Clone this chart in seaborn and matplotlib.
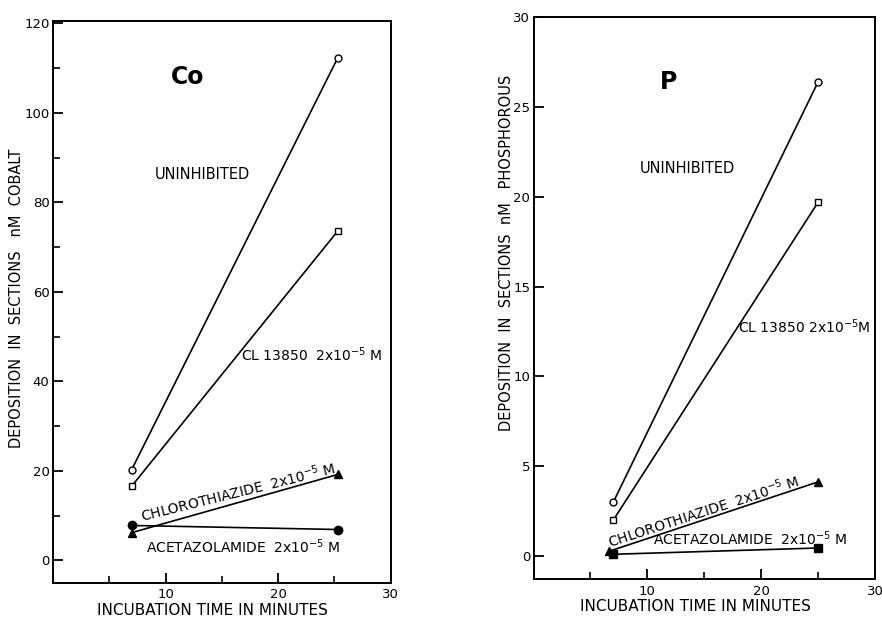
import seaborn as sns
import matplotlib.pyplot as plt
import pandas as pd
from matplotlib.ticker import MultipleLocator

# incubation times (minutes)
co_times = [7, 25.3]
p_times = [7, 25]
p_chloro_times = [6.6, 25]

# cobalt deposition (nM)
co_uninhibited = [20.3, 112.3]
co_cl13850 = [16.6, 73.6]
co_chlorothiazide = [6.2, 19.2]
co_acetazolamide = [7.8, 6.9]

# phosphorous deposition (nM)
p_uninhibited = [3.0, 26.4]
p_cl13850 = [2.0, 19.7]
p_chlorothiazide = [0.26, 4.13]
p_acetazolamide = [0.1, 0.45]

series_names = ['Uninhibited', 'CL 13850', 'Chlorothiazide', 'Acetazolamide']


def build_frame(times, values_list, chloro_times=None):
    rows = []
    for name, vals in zip(series_names, values_list):
        tt = chloro_times if (name == 'Chlorothiazide' and chloro_times) else times
        for t, v in zip(tt, vals):
            rows.append({'time': t, 'value': v, 'series': name})
    return pd.DataFrame(rows)


co_df = build_frame(co_times, [co_uninhibited, co_cl13850, co_chlorothiazide, co_acetazolamide])
p_df = build_frame(p_times, [p_uninhibited, p_cl13850, p_chlorothiazide, p_acetazolamide],
                   chloro_times=p_chloro_times)

sns.set_style("ticks")
plt.rcParams['font.family'] = ['DejaVu Sans']
for key in ['text.color', 'axes.labelcolor', 'xtick.color', 'ytick.color']:
    plt.rcParams[key] = 'black'

fig = plt.figure(figsize=(8.82, 6.18), dpi=100)
ax1 = fig.add_axes([0.060, 0.057, 0.383, 0.909])
ax2 = fig.add_axes([0.605, 0.063, 0.387, 0.909])


def draw_series(ax, df, acet_marker):
    styles = {
        'Uninhibited': dict(marker='o', markerfacecolor='white', markersize=5),
        'CL 13850': dict(marker='s', markerfacecolor='white', markersize=5),
        'Chlorothiazide': dict(marker='^', markerfacecolor='black', markersize=6),
        'Acetazolamide': dict(marker=acet_marker, markerfacecolor='black', markersize=6),
    }
    for name in series_names:
        sub = df[df['series'] == name]
        sns.lineplot(data=sub, x='time', y='value', color='black', linewidth=1.2,
                     markeredgecolor='black', markeredgewidth=1.0, ax=ax,
                     **styles[name])


def style_axes(ax, ylim, major, minor, ylabel, ylabel_pos):
    ax.set_xlim(0, 30)
    ax.set_ylim(*ylim)
    ax.xaxis.set_minor_locator(MultipleLocator(5))
    ax.set_xticks([10, 20, 30])
    ax.yaxis.set_major_locator(MultipleLocator(major))
    if minor:
        ax.yaxis.set_minor_locator(MultipleLocator(minor))
    ax.tick_params(axis='both', which='major', direction='in', length=7, width=1.3,
                   labelsize=9.5, pad=2.5)
    ax.tick_params(axis='both', which='minor', direction='in', length=5, width=1.2)
    ax.tick_params(axis='x', which='major', pad=4)
    for sp in ax.spines.values():
        sp.set_visible(True)
        sp.set_linewidth(1.4)
        sp.set_color('black')
    ax.set_xlabel('INCUBATION TIME IN MINUTES', fontsize=11, va='center')
    ax.xaxis.set_label_coords(0.473, -0.049)
    ax.set_ylabel(ylabel, fontsize=10.5, va='center')
    ax.yaxis.set_label_coords(*ylabel_pos)


# Co panel
draw_series(ax1, co_df, 'o')
style_axes(ax1, (-5, 120.5), 20, 10, 'DEPOSITION  IN  SECTIONS   nM  COBALT', (-0.107, 0.507))
ax1.text(12, 108, 'Co', fontsize=17, fontweight='bold', ha='center', va='center')
ax1.text(13.3, 86.3, 'UNINHIBITED', fontsize=10.5, ha='center', va='center')
ax1.text(23.0, 45.9, 'CL 13850  2x10$^{-5}$ M', fontsize=10, ha='center', va='center')
ax1.text(16.4, 15.4, 'CHLOROTHIAZIDE  2x10$^{-5}$ M', fontsize=10, ha='center', va='center',
         rotation=14)
ax1.text(16.9, 3.1, 'ACETAZOLAMIDE  2x10$^{-5}$ M', fontsize=10, ha='center', va='center')

# P panel
draw_series(ax2, p_df, 's')
style_axes(ax2, (-1.28, 30), 5, None, 'DEPOSITION  IN  SECTIONS  nM   PHOSPHOROUS', (-0.08, 0.58))
ax2.text(11.9, 26.4, 'P', fontsize=17, fontweight='bold', ha='center', va='center')
ax2.text(13.5, 21.6, 'UNINHIBITED', fontsize=10.5, ha='center', va='center')
ax2.text(23.8, 12.8, 'CL 13850 2x10$^{-5}$M', fontsize=10, ha='center', va='center')
ax2.text(14.9, 2.5, 'CHLOROTHIAZIDE  2x10$^{-5}$ M', fontsize=10, ha='center', va='center',
         rotation=18)
ax2.text(19.0, 0.95, 'ACETAZOLAMIDE  2x10$^{-5}$ M', fontsize=10, ha='center', va='center')

fig.savefig('out.png', dpi=100)
